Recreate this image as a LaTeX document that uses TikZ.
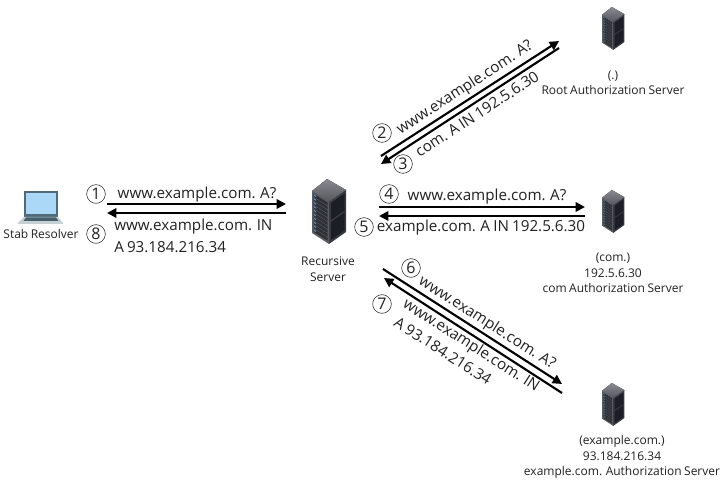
\documentclass[tikz,border=0pt]{standalone}
\usepackage{fontspec}
\setmainfont[WordSpace=0.8]{Open Sans}
\usetikzlibrary{arrows.meta}
\definecolor{ink}{HTML}{222222}
\definecolor{racktopa}{HTML}{8A8A92}
\definecolor{racktopb}{HTML}{55555C}
\definecolor{rackl}{HTML}{5A5D62}
\definecolor{rackr}{HTML}{3A3A42}
\definecolor{rackd}{HTML}{1C1E26}
\definecolor{rackdark}{HTML}{2E3236}
\definecolor{rackled}{HTML}{5F86AE}
\definecolor{lapframe}{HTML}{4F6A78}
\definecolor{lapscreen}{HTML}{ACD8F8}
\definecolor{lapbase}{HTML}{C4D0D4}
\definecolor{lapkeys}{HTML}{46606C}
\tikzset{
  msg/.style={draw=black,line width=1.6pt,-{Triangle[length=7pt,width=7pt]}},
  capt/.style={text=ink,font=\fontsize{9}{11.6}\selectfont,align=center,inner sep=0pt},
  flow/.style={text=ink,font=\fontsize{11.4}{15}\selectfont,inner sep=0pt},
  stepnum/.style={circle,draw=ink,line width=0.4pt,minimum size=14pt,inner sep=0pt,text=ink,font=\fontsize{12}{12}\selectfont},
  rack/.pic={
    \fill[top color=racktopa,bottom color=racktopb] (15,0) -- (0,12) -- (17,23) -- (34,11) -- cycle;
    \fill[rackl] (0,12) -- (17,23) -- (17,65) -- (0,54) -- cycle;
    \fill[rackr] (17,23) -- (34,11) -- (34,53) -- (17,65) -- cycle;
    \foreach \k in {0,...,9}{
      \fill[rackdark] (1.5,14.5+3.9*\k) -- (15.5,23.5+3.9*\k) -- (15.5,26.6+3.9*\k) -- (1.5,17.6+3.9*\k) -- cycle;
      \fill[rackled] (2,15.3+3.9*\k) -- (4,16.6+3.9*\k) -- (4,18+3.9*\k) -- (2,16.7+3.9*\k) -- cycle;
    }
    \fill[rackd] (19,24) -- (32.5,14.5) -- (32.5,31.5) -- (19,41) -- cycle;
    \fill[rackd] (19,43) -- (32.5,33.5) -- (32.5,51.5) -- (19,61) -- cycle;
  },
  laptop/.pic={
    \fill[lapframe] (6,0) rectangle (40,26);
    \fill[lapscreen] (8,2) rectangle (38,23);
    \fill[lapbase] (6,26) -- (40,26) -- (45,32) -- (0,32) -- cycle;
    \fill[lapkeys] (8,26.5) -- (38,26.5) -- (40.5,30) -- (5.5,30) -- cycle;
    \fill[lapbase] (0,32) rectangle (45,33);
  }
}
\begin{document}
\begin{tikzpicture}[x=0.75pt,y=-0.75pt,line cap=butt]
\useasboundingbox (0,0) rectangle (723,484);
\fill[white] (0,0) rectangle (723,484);
% icons
\pic at (18,191) {laptop};
\pic at (312,179) {rack};
\pic[scale=0.66] at (602,7) {rack};
\pic[scale=0.66] at (602,190) {rack};
\pic[scale=0.66] at (602,383) {rack};
% connector ends
\coordinate (a1) at (107,204); \coordinate (b1) at (286,204);
\coordinate (a8) at (286,213); \coordinate (b8) at (107,213);
\coordinate (a2) at (381,156); \coordinate (b2) at (559,41);
\coordinate (a3) at (559,48); \coordinate (b3) at (381,164);
\coordinate (a4) at (379,207); \coordinate (b4) at (585,207);
\coordinate (a5) at (585,216); \coordinate (b5) at (379,216);
\coordinate (a6) at (383,269); \coordinate (b6) at (562,384);
\coordinate (a7) at (562,393); \coordinate (b7) at (384,278);
\draw[msg] (a1) -- (b1);
\draw[msg] (a8) -- (b8);
\draw[msg] (a2) -- (b2);
\draw[msg] (a3) -- (b3);
\draw[msg] (a4) -- (b4);
\draw[msg] (a5) -- (b5);
\draw[msg] (a6) -- (b6);
\draw[msg] (a7) -- (b7);
% node captions
\node[capt] (stab) at (41,234) {Stab Resolver};
\node[capt] (rec) at (328,269) {Recursive\\Server};
\node[capt] (root) at (613,83) {(.)\\Root Authorization Server};
\node[capt] (com) at (613,273) {(com.)\\192.5.6.30\\com Authorization Server};
\node[capt] (ex) at (622,457) {(example.com.)\\93.184.216.34\\example.com. Authorization Server};
% step numbers
\node[stepnum] (n1) at (96,194) {1};
\node[stepnum] (n8) at (96,234) {8};
\node[stepnum] (n2) at (382,133) {2};
\node[stepnum] (n3) at (403,164) {3};
\node[stepnum] (n4) at (389,194) {4};
\node[stepnum] (n5) at (364,227) {5};
\node[stepnum] (n6) at (411,268) {6};
\node[stepnum] (n7) at (382,304) {7};
% flow labels
\node[flow] (t1) at (197,195) {www.example.com. A?};
\node[flow,anchor=west] (t8a) at (114,227) {www.example.com. IN};
\node[flow,anchor=west] (t8b) at (114,247) {A 93.184.216.34};
\node[flow,rotate=33] (t2) at (465,88) {www.example.com. A?};
\node[flow,rotate=33] (t3) at (477,114) {com. A IN 192.5.6.30};
\node[flow] (t4) at (487,197) {www.example.com. A?};
\node[flow] (t5) at (481,228) {example.com. A IN 192.5.6.30};
\node[flow,rotate=-32.5] (t6) at (487,323) {www.example.com. A?};
\node[flow,rotate=-32.5] (t7a) at (471,346) {www.example.com. IN};
\node[flow,rotate=-32.5] (t7b) at (443,351) {A 93.184.216.34};
\end{tikzpicture}
\end{document}
